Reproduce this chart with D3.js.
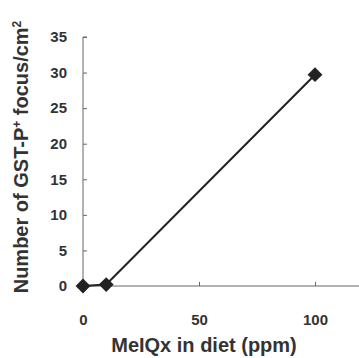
<!DOCTYPE html>
<html>
<head>
<meta charset="utf-8">
<script src="https://cdn.jsdelivr.net/npm/d3@7"></script>
<style>
  body { margin: 0; background: #fff; }
  svg text { font-family: "Liberation Sans", Arial, sans-serif; font-weight: bold; fill: #333; }
  .axis path, .axis line { stroke: #666; }
</style>
</head>
<body>
<div class="container"></div>
<script>
const doses = [0, 10, 100];
const foci = [0, 0.2, 29.7];
const xTicks = [0, 50, 100];
const yTicks = [0, 5, 10, 15, 20, 25, 30, 35];

const w = 359;
const h = 358;

const svg = d3
  .select('.container')
  .append('svg')
  .attr('width', w)
  .attr('height', h);

const xScale = d3.scaleLinear().domain([0, 100]).range([83, 315]);
const yScale = d3.scaleLinear().domain([0, 35]).range([286, 37]);

const xAxis = d3.axisBottom(xScale).tickValues(xTicks).tickSize(-4).tickPadding(28);
const yAxis = d3.axisLeft(yScale).tickValues(yTicks).tickSize(-4).tickPadding(16);

svg
  .append('g')
  .attr('class', 'axis')
  .attr('transform', 'translate(0,' + yScale(0) + ')')
  .call(xAxis)
  .call((g) => g.select('.domain').attr('d', 'M' + xScale(0) + ',0H' + w))
  .selectAll('text')
  .style('font-size', '15px');

svg
  .append('g')
  .attr('class', 'axis')
  .attr('transform', 'translate(' + xScale(0) + ',0)')
  .call(yAxis)
  .call((g) => g.select('.domain').attr('d', 'M4,' + yScale(35) + 'H0V' + yScale(0)))
  .selectAll('text')
  .style('font-size', '15px');

const line = d3
  .line()
  .x((d, i) => xScale(doses[i]))
  .y((d) => yScale(d));

svg
  .append('path')
  .datum(foci)
  .attr('d', line)
  .attr('fill', 'none')
  .attr('stroke', '#222')
  .attr('stroke-width', 2);

svg
  .selectAll('.pt')
  .data(foci)
  .enter()
  .append('path')
  .attr('class', 'pt')
  .attr('d', d3.symbol(d3.symbolSquare, 110))
  .attr('transform', (d, i) => 'translate(' + xScale(doses[i]) + ',' + yScale(d) + ') rotate(45)')
  .attr('fill', '#222');

svg
  .append('text')
  .attr('x', 204)
  .attr('y', 352)
  .attr('text-anchor', 'middle')
  .style('font-size', '20px')
  .text('MeIQx in diet (ppm)');

const yl = svg
  .append('text')
  .attr('transform', 'translate(28,157) rotate(-90)')
  .attr('text-anchor', 'middle')
  .style('font-size', '20px');
yl.append('tspan').text('Number of GST-P');
yl.append('tspan').attr('dy', -7).style('font-size', '12px').text('+');
yl.append('tspan').attr('dy', 7).text(' focus/cm');
yl.append('tspan').attr('dy', -7).style('font-size', '12px').text('2');
</script>
</body>
</html>
